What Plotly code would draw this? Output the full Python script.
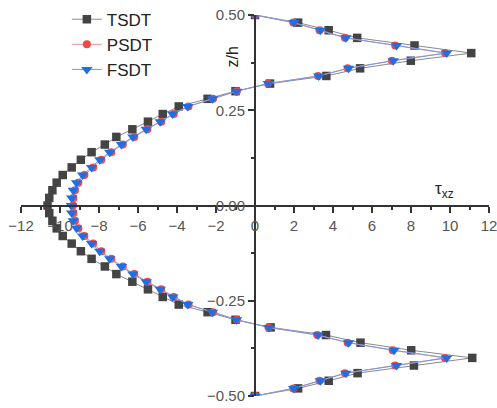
import plotly.graph_objects as go

z = [0.50, 0.48, 0.46, 0.44, 0.42, 0.40, 0.38, 0.36, 0.34, 0.32,
     0.30, 0.28, 0.26, 0.24, 0.22, 0.20, 0.18, 0.16, 0.14, 0.12,
     0.10, 0.08, 0.06, 0.04, 0.02, 0.00, -0.02, -0.04, -0.06, -0.08,
     -0.10, -0.12, -0.14, -0.16, -0.18, -0.20, -0.22, -0.24, -0.26, -0.28,
     -0.30, -0.32, -0.34, -0.36, -0.38, -0.40, -0.42, -0.44, -0.46, -0.48, -0.50]

tsdt = [0.00, 2.21, 3.78, 5.24, 8.18, 11.09, 7.99, 5.39, 3.66, 0.77,
        -1.00, -2.43, -3.91, -4.73, -5.49, -6.29, -7.11, -7.70, -8.38, -8.93,
        -9.40, -9.86, -10.17, -10.39, -10.55, -10.64, -10.55, -10.39, -10.17, -9.86,
        -9.40, -8.93, -8.38, -7.70, -7.11, -6.29, -5.49, -4.73, -3.91, -2.43,
        -1.00, 0.80, 3.64, 5.41, 8.01, 11.14, 8.15, 5.26, 3.78, 2.21, 0.00]

psdt = [0.00, 1.96, 3.31, 4.61, 7.19, 9.74, 7.02, 4.75, 3.23, 0.66,
        -0.93, -2.15, -3.41, -4.17, -4.81, -5.52, -6.19, -6.78, -7.37, -7.88,
        -8.30, -8.75, -9.06, -9.23, -9.31, -9.33, -9.31, -9.23, -9.06, -8.75,
        -8.30, -7.88, -7.37, -6.78, -6.19, -5.52, -4.81, -4.17, -3.41, -2.15,
        -0.93, 0.69, 3.19, 4.75, 7.06, 9.74, 7.19, 4.61, 3.31, 1.96, 0.00]

fsdt = [0.00, 1.99, 3.35, 4.66, 7.26, 9.83, 7.09, 4.80, 3.27, 0.68,
        -0.95, -2.18, -3.45, -4.22, -4.86, -5.58, -6.26, -6.85, -7.45, -7.96,
        -8.38, -8.84, -9.15, -9.32, -9.40, -9.42, -9.40, -9.32, -9.15, -8.84,
        -8.38, -7.96, -7.45, -6.85, -6.26, -5.58, -4.86, -4.22, -3.45, -2.18,
        -0.95, 0.71, 3.23, 4.80, 7.13, 9.83, 7.26, 4.66, 3.35, 1.99, 0.00]

series = [
    ("TSDT", tsdt, "#8a8a8a", "#444444", "square", 8.5),
    ("PSDT", psdt, "#f29090", "#f04848", "circle", 8),
    ("FSDT", fsdt, "#6f9be8", "#1f6fe3", "triangle-down", 10),
]

fig = go.Figure()
for name, vals, lc, mc, sym, ms in series:
    fig.add_trace(go.Scatter(
        x=vals, y=z, name=name, mode="lines+markers",
        line=dict(color=lc, width=1),
        marker=dict(symbol=sym, size=ms, color=mc, line=dict(width=0)),
    ))

axis_font = dict(family="Liberation Sans, Arial, sans-serif", size=15, color="#555555")
fig.update_layout(
    width=497, height=408,
    margin=dict(l=21, r=8, t=15, b=12, autoexpand=False),
    paper_bgcolor="white", plot_bgcolor="white",
    showlegend=True,
    legend=dict(x=0.098, y=1.035, xanchor="left", yanchor="top",
                bgcolor="rgba(0,0,0,0)",
                font=dict(family="Liberation Sans, Arial, sans-serif", size=17, color="#222222")),
    xaxis=dict(range=[-12, 12], anchor="free", position=0.5, showgrid=False, zeroline=False,
               showline=True, linecolor="#333333", linewidth=2,
               ticks="outside", ticklen=6, tickwidth=2, tickcolor="#333333",
               tick0=0, dtick=2, tickfont=axis_font, automargin=False,
               ticklabeloverflow="allow",
               minor=dict(dtick=1, ticks="outside", ticklen=3, tickwidth=1.5, tickcolor="#333333")),
    yaxis=dict(range=[-0.5, 0.5], anchor="free", position=0.5, showgrid=False, zeroline=False,
               showline=True, linecolor="#333333", linewidth=2,
               ticks="outside", ticklen=6, tickwidth=2, tickcolor="#333333",
               tick0=0, dtick=0.25, tickformat=".2f", tickfont=axis_font, automargin=False,
               ticklabeloverflow="allow",
               minor=dict(dtick=0.125, ticks="outside", ticklen=3, tickwidth=1.5, tickcolor="#333333")),
    annotations=[
        dict(text="z/h", xref="paper", yref="paper", x=(232 - 21) / 468, y=(396 - 45) / 381,
             showarrow=False, textangle=-90,
             font=dict(family="Liberation Sans, Arial, sans-serif", size=16, color="#222222")),
        dict(text="τ<sub>xz</sub>", xref="paper", yref="paper", x=(456 - 21) / 468, y=(396 - 190) / 381,
             showarrow=False,
             font=dict(family="Liberation Sans, Arial, sans-serif", size=17, color="#222222")),
    ],
)

fig.write_html("out.html")
